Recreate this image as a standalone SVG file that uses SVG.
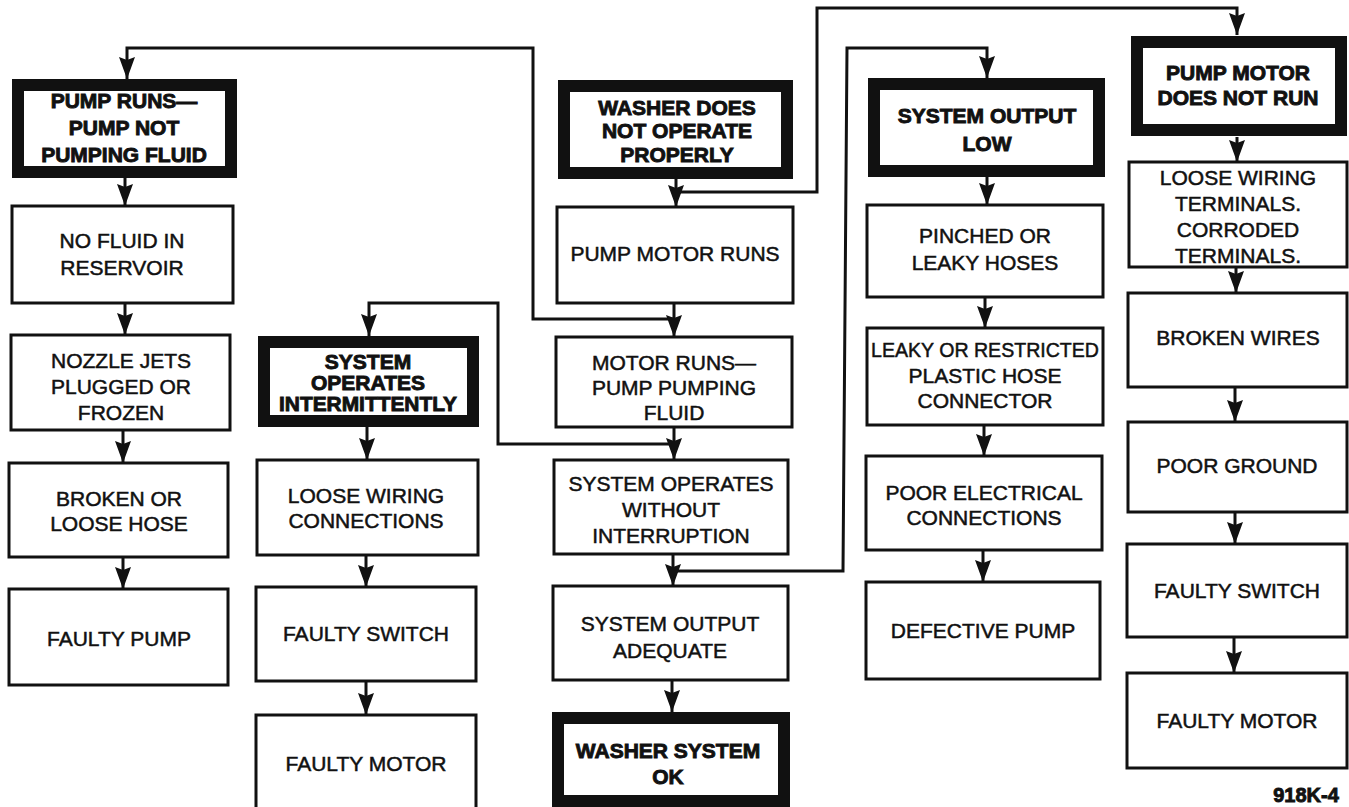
<svg xmlns="http://www.w3.org/2000/svg" width="1349" height="807" viewBox="0 0 1349 807">
<style>
.b{fill:#fff;stroke:#111;stroke-width:3}
.t{fill:#fff;stroke:#111;stroke-width:12}
.c{fill:none;stroke:#111;stroke-width:3}
text{font-family:"Liberation Sans",Arial,sans-serif;font-size:21px;fill:#111;text-anchor:middle;stroke:#111;stroke-width:0.5}
.h{font-weight:bold;stroke-width:0.9}
</style>
<defs>
<marker id="ah" markerUnits="userSpaceOnUse" markerWidth="22" markerHeight="16" viewBox="0 0 22 16" refX="22" refY="8" orient="auto">
<polygon points="0,0 22,8 0,16 3,8" fill="#111"/>
</marker>
</defs>
<rect width="1349" height="807" fill="#fff"/>
<g id="connectors">
<path class="c" d="M674,319 H533 V48 H127 V79" marker-end="url(#ah)"/>
<path class="c" d="M674,444 H498 V303 H369 V336" marker-end="url(#ah)"/>
<path class="c" d="M673,571 H843 L847,48 H987 V78" marker-end="url(#ah)"/>
<path class="c" d="M674,192 H817 V8 H1237 V35" marker-end="url(#ah)"/>
<path class="c" d="M125,178 V206" marker-end="url(#ah)"/>
<path class="c" d="M125,303 V335" marker-end="url(#ah)"/>
<path class="c" d="M123,430 V463" marker-end="url(#ah)"/>
<path class="c" d="M123,557 V589" marker-end="url(#ah)"/>
<path class="c" d="M367,427 V460" marker-end="url(#ah)"/>
<path class="c" d="M366,555 V587" marker-end="url(#ah)"/>
<path class="c" d="M366,681 V715" marker-end="url(#ah)"/>
<path class="c" d="M676,179 V207" marker-end="url(#ah)"/>
<path class="c" d="M674,303 V337" marker-end="url(#ah)"/>
<path class="c" d="M674,427 V460" marker-end="url(#ah)"/>
<path class="c" d="M673,554 V586" marker-end="url(#ah)"/>
<path class="c" d="M672,680 V712" marker-end="url(#ah)"/>
<path class="c" d="M987,177 V205" marker-end="url(#ah)"/>
<path class="c" d="M985,297 V328" marker-end="url(#ah)"/>
<path class="c" d="M984,425 V456" marker-end="url(#ah)"/>
<path class="c" d="M983,550 V582" marker-end="url(#ah)"/>
<path class="c" d="M1237,137 V162" marker-end="url(#ah)"/>
<path class="c" d="M1236,267 V293" marker-end="url(#ah)"/>
<path class="c" d="M1235,387 V422" marker-end="url(#ah)"/>
<path class="c" d="M1235,512 V544" marker-end="url(#ah)"/>
<path class="c" d="M1234,637 V673" marker-end="url(#ah)"/>
</g>
<g id="n-pump-runs"><rect class="t" x="18" y="85" width="213" height="87"/><text class="h" x="124" y="108">PUMP RUNS—</text><text class="h" x="124" y="135">PUMP NOT</text><text class="h" x="124" y="162">PUMPING FLUID</text></g>
<g id="n-no-fluid"><rect class="b" x="12" y="206" width="221" height="97"/><text x="122" y="248">NO FLUID IN</text><text x="122" y="275">RESERVOIR</text></g>
<g id="n-nozzle"><rect class="b" x="11" y="335" width="219" height="95"/><text x="121" y="368">NOZZLE JETS</text><text x="121" y="394">PLUGGED OR</text><text x="121" y="420">FROZEN</text></g>
<g id="n-broken-hose"><rect class="b" x="9" y="463" width="219" height="94"/><text x="119" y="506">BROKEN OR</text><text x="119" y="531">LOOSE HOSE</text></g>
<g id="n-faulty-pump"><rect class="b" x="9" y="589" width="219" height="96"/><text x="119" y="646">FAULTY PUMP</text></g>
<g id="n-intermittent"><rect class="t" x="264" y="342" width="209" height="79"/><text class="h" x="368" y="369">SYSTEM</text><text class="h" x="368" y="390">OPERATES</text><text class="h" x="368" y="411" textLength="178" lengthAdjust="spacingAndGlyphs">INTERMITTENTLY</text></g>
<g id="n-loose-conn"><rect class="b" x="257" y="460" width="221" height="95"/><text x="366" y="503">LOOSE WIRING</text><text x="366" y="528">CONNECTIONS</text></g>
<g id="n-faulty-switch-1"><rect class="b" x="256" y="587" width="220" height="94"/><text x="366" y="641">FAULTY SWITCH</text></g>
<g id="n-faulty-motor-1"><rect class="b" x="256" y="715" width="220" height="100"/><text x="366" y="771">FAULTY MOTOR</text></g>
<g id="n-washer-not"><rect class="t" x="564" y="86" width="223" height="87"/><text class="h" x="677" y="115">WASHER DOES</text><text class="h" x="677" y="138">NOT OPERATE</text><text class="h" x="677" y="162">PROPERLY</text></g>
<g id="n-motor-runs"><rect class="b" x="557" y="207" width="236" height="96"/><text x="675" y="261">PUMP MOTOR RUNS</text></g>
<g id="n-pump-pumping"><rect class="b" x="556" y="337" width="236" height="90"/><text x="674" y="370">MOTOR RUNS—</text><text x="674" y="395">PUMP PUMPING</text><text x="674" y="420">FLUID</text></g>
<g id="n-no-interrupt"><rect class="b" x="554" y="460" width="234" height="94"/><text x="671" y="491">SYSTEM OPERATES</text><text x="671" y="517">WITHOUT</text><text x="671" y="543">INTERRUPTION</text></g>
<g id="n-adequate"><rect class="b" x="553" y="586" width="235" height="94"/><text x="670" y="631">SYSTEM OUTPUT</text><text x="670" y="658">ADEQUATE</text></g>
<g id="n-ok"><rect class="t" x="558" y="718" width="226" height="83"/><text class="h" x="668" y="758">WASHER SYSTEM</text><text class="h" x="668" y="784">OK</text></g>
<g id="n-output-low"><rect class="t" x="874" y="84" width="225" height="87"/><text class="h" x="987" y="123">SYSTEM OUTPUT</text><text class="h" x="987" y="151">LOW</text></g>
<g id="n-pinched"><rect class="b" x="867" y="205" width="236" height="92"/><text x="985" y="243">PINCHED OR</text><text x="985" y="270">LEAKY HOSES</text></g>
<g id="n-leaky"><rect class="b" x="867" y="328" width="236" height="97"/><text x="985" y="357" textLength="228" lengthAdjust="spacingAndGlyphs">LEAKY OR RESTRICTED</text><text x="985" y="383">PLASTIC HOSE</text><text x="985" y="408">CONNECTOR</text></g>
<g id="n-poor-elec"><rect class="b" x="866" y="456" width="236" height="94"/><text x="984" y="500">POOR ELECTRICAL</text><text x="984" y="525">CONNECTIONS</text></g>
<g id="n-defective"><rect class="b" x="866" y="582" width="234" height="97"/><text x="983" y="638">DEFECTIVE PUMP</text></g>
<g id="n-not-run"><rect class="t" x="1137" y="42" width="204" height="88"/><text class="h" x="1238" y="80">PUMP MOTOR</text><text class="h" x="1238" y="105">DOES NOT RUN</text></g>
<g id="n-terminals"><rect class="b" x="1129" y="162" width="218" height="105"/><text x="1238" y="185">LOOSE WIRING</text><text x="1238" y="211">TERMINALS.</text><text x="1238" y="237">CORRODED</text><text x="1238" y="263">TERMINALS.</text></g>
<g id="n-broken-wires"><rect class="b" x="1128" y="293" width="219" height="94"/><text x="1238" y="345">BROKEN WIRES</text></g>
<g id="n-poor-ground"><rect class="b" x="1128" y="422" width="219" height="90"/><text x="1237" y="473">POOR GROUND</text></g>
<g id="n-faulty-switch-2"><rect class="b" x="1127" y="544" width="220" height="93"/><text x="1237" y="598">FAULTY SWITCH</text></g>
<g id="n-faulty-motor-2"><rect class="b" x="1127" y="673" width="220" height="95"/><text x="1237" y="728">FAULTY MOTOR</text></g>
<text class="h" x="1306" y="802" style="font-size:20px">918K-4</text>
</svg>
